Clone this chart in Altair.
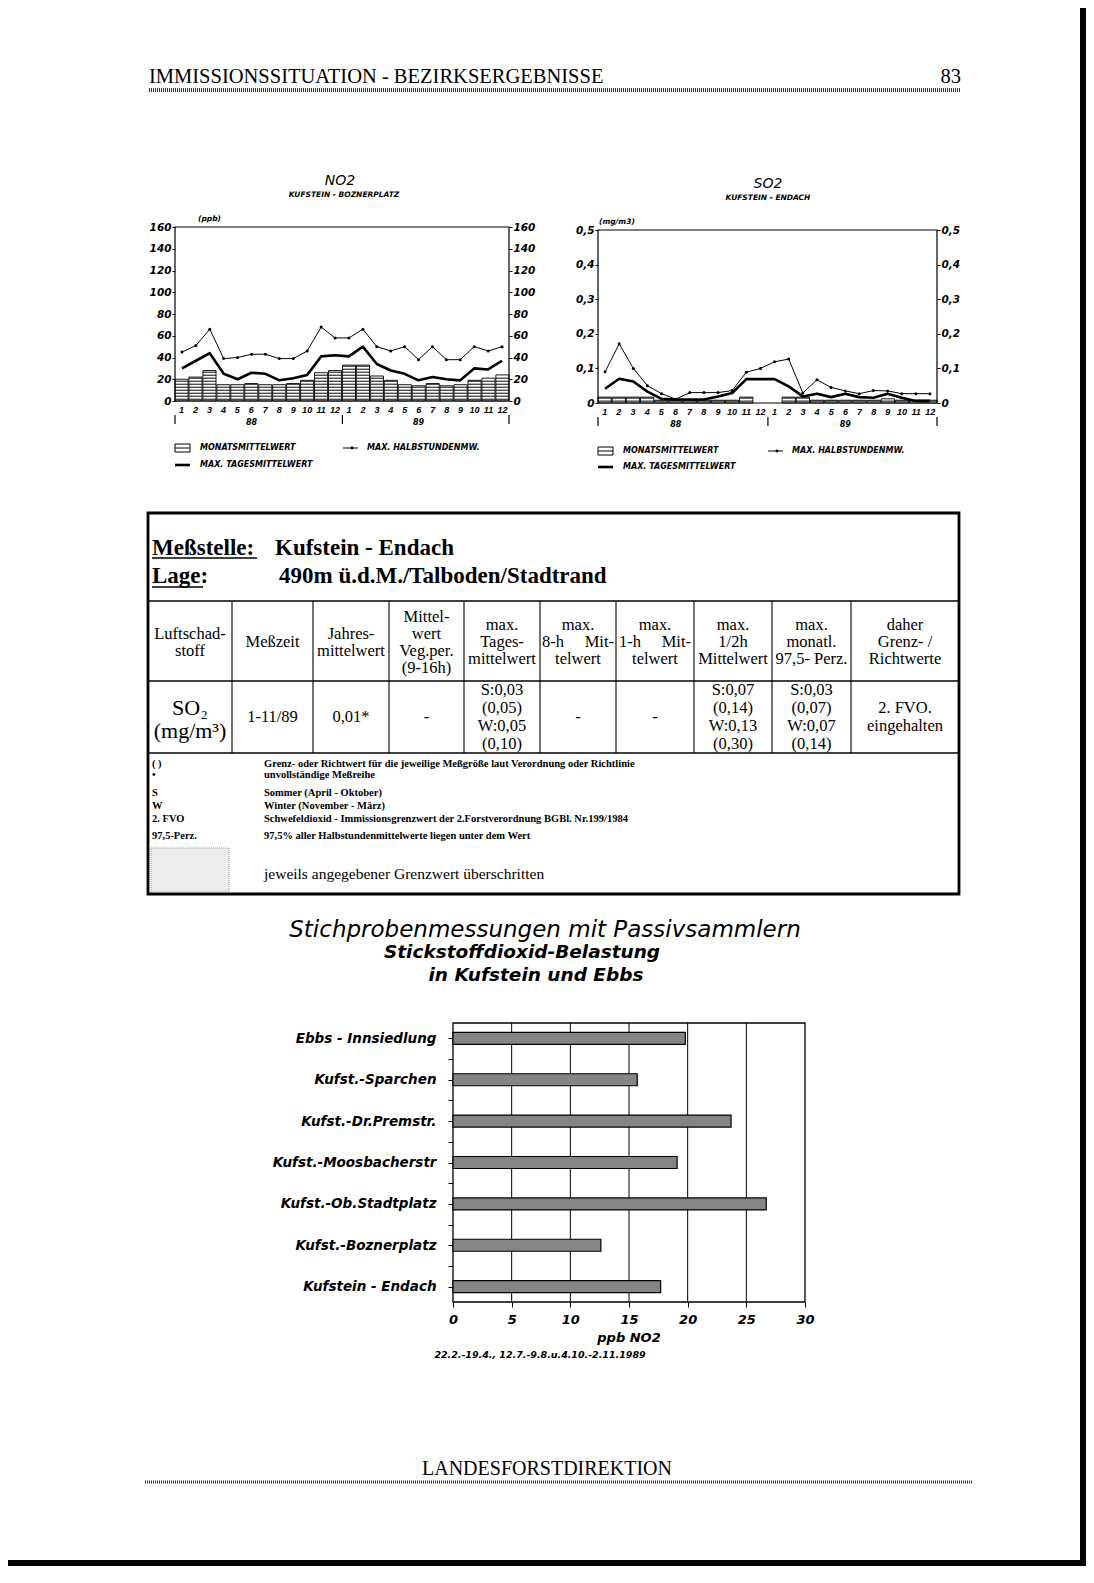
import altair as alt
import pandas as pd

# ------------------------------------------------------------------
# values read from the page
# ------------------------------------------------------------------
MONTH_LABELS = [str(m) for m in range(1, 13)] * 2
YEARS = ["88", "89"]

NO2_MONTHLY_MEAN = [20, 22, 28, 15, 15, 16, 15, 15, 16, 19, 26, 28,
                    33, 33, 23, 19, 15, 14, 16, 14, 15, 19, 21, 24]
NO2_MAX_DAY = [30, 37, 44, 25, 20, 26, 25, 19, 21, 24, 41, 42,
               41, 50, 34, 28, 25, 19, 22, 20, 19, 30, 29, 37]
NO2_MAX_HALFHOUR = [45, 51, 66, 39, 40, 43, 43, 39, 39, 46, 68, 58,
                    58, 66, 50, 46, 50, 38, 50, 38, 38, 50, 46, 50]

SO2_MONTHLY_MEAN = [0.017, 0.017, 0.017, 0.017, 0.008, 0.008, 0.008, 0.008, 0.008, 0.008, 0.017, None,
                    None, 0.017, 0.017, 0.008, 0.008, 0.008, 0.008, 0.008, 0.012, 0.008, 0.008, 0.008]
SO2_MAX_DAY = [0.041, 0.070, 0.062, 0.033, 0.012, 0.010, 0.010, 0.010, 0.019, 0.029, 0.069, 0.069,
               0.069, 0.048, 0.019, 0.027, 0.017, 0.027, 0.017, 0.015, 0.027, 0.015, 0.006, 0.006]
SO2_MAX_HALFHOUR = [0.090, 0.171, 0.100, 0.050, 0.027, 0.011, 0.030, 0.030, 0.030, 0.036, 0.089, 0.100,
                    0.119, 0.127, 0.029, 0.067, 0.045, 0.035, 0.027, 0.036, 0.035, 0.027, 0.027, 0.027]

NO2_TICKS = [0, 20, 40, 60, 80, 100, 120, 140, 160]
SO2_TICKS = [0, 0.1, 0.2, 0.3, 0.4, 0.5]

LEGEND_TEXTS = ["MONATSMITTELWERT", "MAX. HALBSTUNDENMW.", "MAX. TAGESMITTELWERT"]

SITES = ["Ebbs - Innsiedlung", "Kufst.-Sparchen", "Kufst.-Dr.Premstr.", "Kufst.-Moosbacherstr",
         "Kufst.-Ob.Stadtplatz", "Kufst.-Boznerplatz", "Kufstein - Endach"]
SITE_NO2 = [19.8, 15.7, 23.7, 19.1, 26.7, 12.6, 17.7]
BAR_TICKS = [0, 5, 10, 15, 20, 25, 30]

HEADER_CELLS = [
    ["Luftschad-", "stoff"],
    ["Meßzeit"],
    ["Jahres-", "mittelwert"],
    ["Mittel-", "wert", "Veg.per.", "(9-16h)"],
    ["max.", "Tages-", "mittelwert"],
    ["max.", "8-h\u00a0\u00a0\u00a0\u00a0\u00a0Mit-", "telwert"],
    ["max.", "1-h\u00a0\u00a0\u00a0\u00a0\u00a0Mit-", "telwert"],
    ["max.", "1/2h", "Mittelwert"],
    ["max.", "monatl.", "97,5- Perz."],
    ["daher", "Grenz- /", "Richtwerte"],
]
DATA_CELLS = [
    ["SO\u2082", "(mg/m\u00b3)"],
    ["1-11/89"],
    ["0,01*"],
    ["-"],
    ["S:0,03", "(0,05)", "W:0,05", "(0,10)"],
    ["-"],
    ["-"],
    ["S:0,07", "(0,14)", "W:0,13", "(0,30)"],
    ["S:0,03", "(0,07)", "W:0,07", "(0,14)"],
    ["2. FVO.", "eingehalten"],
]
NOTE_KEYS = ["( )", "\u2022", "S", "W", "2. FVO", "97,5-Perz."]
NOTE_TEXTS = [
    "Grenz- oder Richtwert für die jeweilige Meßgröße laut Verordnung oder Richtlinie",
    "unvollständige Meßreihe",
    "Sommer (April - Oktober)",
    "Winter (November - März)",
    "Schwefeldioxid - Immissionsgrenzwert der 2.Forstverordnung BGBl. Nr.199/1984",
    "97,5% aller Halbstundenmittelwerte liegen unter dem Wert",
]

# ------------------------------------------------------------------
# layout (page pixel coordinates)
# ------------------------------------------------------------------
W, H = 1078, 1558
M = 8
SANS = "DejaVu Sans"
NARROW = "Liberation Sans"
SERIF = "Liberation Serif"


def P(v):
    return v - M


def T(rows, size, font=SERIF, weight="normal", style="normal", align="center",
      baseline="middle", color="black"):
    df = pd.DataFrame(rows, columns=["t", "px", "py"])
    df["px"] = df["px"].astype(float) - M
    df["py"] = df["py"].astype(float) - M
    return alt.Chart(df).mark_text(font=font, fontSize=size, fontWeight=weight, fontStyle=style,
                                   align=align, baseline=baseline, color=color).encode(
        x=alt.X("px:Q", scale=None, axis=None),
        y=alt.Y("py:Q", scale=None, axis=None),
        text=alt.Text("t:N"))


def R(rows, width=1.0, color="black", dash=None):
    df = pd.DataFrame(rows, columns=["a", "b", "c", "d"]).astype(float) - M
    kw = dict(strokeWidth=width, color=color)
    if dash:
        kw["strokeDash"] = dash
    return alt.Chart(df).mark_rule(**kw).encode(
        x=alt.X("a:Q", scale=None, axis=None), y=alt.Y("b:Q", scale=None, axis=None),
        x2="c:Q", y2="d:Q")


def B(rows, fill="transparent", stroke="black", width=1.0, dash=None):
    df = pd.DataFrame(rows, columns=["a", "b", "c", "d"]).astype(float) - M
    kw = dict(fill=fill, stroke=stroke, strokeWidth=width)
    if dash:
        kw["strokeDash"] = dash
    return alt.Chart(df).mark_rect(**kw).encode(
        x=alt.X("a:Q", scale=None, axis=None), y=alt.Y("b:Q", scale=None, axis=None),
        x2="c:Q", y2="d:Q")


def DOT(rows, size=12):
    df = pd.DataFrame(rows, columns=["a", "b"]).astype(float) - M
    return alt.Chart(df).mark_circle(color="black", opacity=1, size=size).encode(
        x=alt.X("a:Q", scale=None, axis=None), y=alt.Y("b:Q", scale=None, axis=None))


LAB = dict(labelFont=SANS, labelFontStyle="italic", labelFontWeight="bold", labelColor="black")


def month_panel(mm, tm, hs, box, ymax, ticks, lab_expr, hatch):
    x0, y0, x1, y1 = box
    df = pd.DataFrame({"idx": list(range(24)), "mm": mm, "tm": tm, "hs": hs})
    xs = alt.Scale(domain=list(range(24)), range=[P(x0), P(x1)], paddingInner=0.06, paddingOuter=0)
    ys = alt.Scale(domain=[0, ymax], range=[P(y1), P(y0)], nice=False, zero=True)
    base = alt.Chart(df)
    xax = alt.Axis(orient="bottom", offset=P(y1) - H, labelExpr="(datum.value % 12) + 1",
                   labelAngle=0, labelOverlap=False, ticks=False, domain=False, grid=False,
                   labelFont=NARROW, labelFontStyle="italic", labelFontWeight="bold", labelColor="black",
                   labelFontSize=9, labelPadding=4, title=None)
    bars = base.mark_bar(fill="white", stroke="black", strokeWidth=0.9).encode(
        x=alt.X("idx:O", scale=xs, axis=xax),
        y=alt.Y("mm:Q", scale=ys, axis=None))
    hs0, hstep, hw = hatch
    hatch_l = base.transform_filter("isValid(datum.mm)").transform_calculate(
        s=f"sequence({hs0}, datum.mm - {hw}, {hstep})").transform_flatten(["s"]).transform_calculate(
        s2=f"datum.s + {hw}").mark_bar(color="black").encode(
        x=alt.X("idx:O", scale=xs, axis=None),
        y=alt.Y("s:Q", scale=ys, axis=None), y2="s2:Q")
    left_ax = alt.Axis(orient="left", offset=-P(x0), values=ticks, labelExpr=lab_expr, tickSize=3,
                       tickColor="black", labelPadding=1, domain=False, grid=False, title=None,
                       labelFontSize=10.5, **LAB)
    right_ax = alt.Axis(orient="right", offset=P(x1) - W, values=ticks, labelExpr=lab_expr, tickSize=3,
                        tickColor="black", labelPadding=1, domain=False, grid=False, title=None,
                        labelFontSize=10.5, **LAB)
    tm_line = base.mark_line(color="black", strokeWidth=2.6, strokeJoin="round").encode(
        x=alt.X("idx:O", scale=xs, axis=None),
        y=alt.Y("tm:Q", scale=ys, axis=left_ax), order="idx:Q")
    hs_line = base.mark_line(color="black", strokeWidth=1,
                             point=alt.OverlayMarkDef(filled=True, size=9, color="black")).encode(
        x=alt.X("idx:O", scale=xs, axis=None),
        y=alt.Y("hs:Q", scale=ys, axis=right_ax), order="idx:Q")
    frame = B([(x0, y0, x1, y1)], width=1.2)
    yr_start = alt.Chart(pd.DataFrame({"idx": [0, 12]})).mark_rule(color="black", strokeWidth=1.2).encode(
        x=alt.X("idx:O", scale=xs, axis=None, bandPosition=0),
        y=alt.value(P(y1 + 14)), y2=alt.value(P(y1 + 23)))
    yr_end = alt.Chart(pd.DataFrame({"idx": [23]})).mark_rule(color="black", strokeWidth=1.2).encode(
        x=alt.X("idx:O", scale=xs, axis=None, bandPosition=1),
        y=alt.value(P(y1 + 14)), y2=alt.value(P(y1 + 23)))
    yr_txt = alt.Chart(pd.DataFrame({"idx": [5, 17], "yr": YEARS})).mark_text(
        font=SANS, fontSize=8, fontStyle="italic", fontWeight="bold", baseline="middle").encode(
        x=alt.X("idx:O", scale=xs, axis=None, bandPosition=1),
        y=alt.value(P(y1 + 22)), text="yr:N")
    return [bars, hatch_l, frame, tm_line, hs_line, yr_start, yr_end, yr_txt]


def legend(x0, xc2, ya, yb):
    return [
        B([(x0, ya - 4, x0 + 15, ya + 4)], fill="white", width=1),
        R([(x0, ya, x0 + 15, ya)], width=1),
        T([(LEGEND_TEXTS[0], x0 + 25, ya)], 8, SANS, "bold", "italic", align="left"),
        R([(xc2, ya, xc2 + 15, ya)], width=1),
        DOT([(xc2 + 9, ya)], size=8),
        T([(LEGEND_TEXTS[1], xc2 + 24, ya)], 8, SANS, "bold", "italic", align="left"),
        R([(x0, yb, x0 + 15, yb)], width=2.6),
        T([(LEGEND_TEXTS[2], x0 + 25, yb)], 8, SANS, "bold", "italic", align="left"),
    ]


layers = []

# page header / footer
layers += [
    T([("IMMISSIONSSITUATION - BEZIRKSERGEBNISSE", 149, 83)], 20.5, align="left", baseline="alphabetic"),
    T([("83", 961, 83)], 20.5, align="right", baseline="alphabetic"),
    R([(149, 90, 961, 90)], width=4, color="#333", dash=[1, 1]),
    T([("LANDESFORSTDIREKTION", 547, 1475)], 20, baseline="alphabetic"),
    R([(145, 1482, 972, 1482)], width=3, color="#333", dash=[1, 1]),
    B([(1080, 8, 1086, 1566)], fill="black", stroke="black", width=0),
    B([(8, 1560, 1086, 1566)], fill="black", stroke="black", width=0),
]

# NO2 panel
NO2_BOX = (175, 227, 509, 401)
layers += month_panel(NO2_MONTHLY_MEAN, NO2_MAX_DAY, NO2_MAX_HALFHOUR, NO2_BOX, 160, NO2_TICKS,
                      "datum.value", (1.2, 2.76, 0.9))
layers += [
    T([("NO2", 340, 185)], 14, SANS, style="italic", baseline="alphabetic"),
    T([("KUFSTEIN - BOZNERPLATZ", 344, 195)], 7.5, SANS, "bold", "italic"),
    T([("(ppb)", 198, 219)], 7.5, SANS, "bold", "italic", align="left"),
]
layers += legend(175, 343, 448, 465)

# SO2 panel
SO2_BOX = (598, 230, 937, 403)
layers += month_panel(SO2_MONTHLY_MEAN, SO2_MAX_DAY, SO2_MAX_HALFHOUR, SO2_BOX, 0.5, SO2_TICKS,
                      "datum.value == 0 ? '0' : replace(format(datum.value, '.1f'), '.', ',')",
                      (0.004, 0.0087, 0.0029))
layers += [
    T([("SO2", 768, 188)], 14, SANS, style="italic", baseline="alphabetic"),
    T([("KUFSTEIN - ENDACH", 768, 198)], 7.5, SANS, "bold", "italic"),
    T([("(mg/m3)", 599, 222)], 7.5, SANS, "bold", "italic", align="left"),
]
layers += legend(598, 768, 451, 467)

# ------------------------------------------------------------------
# table
# ------------------------------------------------------------------
COLS = [148, 232, 313, 389, 464, 540, 616, 694, 772, 851, 959]
TB_TOP, TB_HEAD, TB_ROW1, TB_ROW2, TB_BOT = 513, 601, 681, 753, 894
centers = [(a + b) / 2 for a, b in zip(COLS[:-1], COLS[1:])]

layers += [
    B([(COLS[0], TB_TOP, COLS[-1], TB_BOT)], width=2.8),
    R([(COLS[0], y, COLS[-1], y) for y in (TB_HEAD, TB_ROW1, TB_ROW2)], width=1.6),
    R([(x, TB_HEAD, x, TB_ROW2) for x in COLS[1:-1]], width=1.1),
    T([("Meßstelle:", 152, 555), ("Lage:", 152, 583)], 23, weight="bold", align="left", baseline="alphabetic"),
    T([("Kufstein - Endach", 275, 555), ("490m ü.d.M./Talboden/Stadtrand", 279, 583)], 23,
      weight="bold", align="left", baseline="alphabetic"),
    R([(152, 558, 257, 558), (152, 587, 203, 587)], width=1.6),
]
hdr_rows = []
for cx, lines in zip(centers, HEADER_CELLS):
    n = len(lines)
    for i, s in enumerate(lines):
        hdr_rows.append((s, cx, 642 + (i - (n - 1) / 2) * 17))
layers.append(T(hdr_rows, 16.5))

data_rows = []
for cx, lines in zip(centers[1:], DATA_CELLS[1:]):
    n = len(lines)
    for i, s in enumerate(lines):
        data_rows.append((s, cx, 717 + (i - (n - 1) / 2) * 18))
layers.append(T(data_rows, 16.5))
layers.append(T([(DATA_CELLS[0][0], centers[0], 708), (DATA_CELLS[0][1], centers[0], 731)], 22))

NOTE_Y = [764, 775, 793, 806, 819, 836]
layers += [
    T([(k, 152, y) for k, y in zip(NOTE_KEYS, NOTE_Y)], 10.5, weight="bold", align="left"),
    T([(t, 264, y) for t, y in zip(NOTE_TEXTS, NOTE_Y)], 10.5, weight="bold", align="left"),
    B([(151, 848, 229, 892)], fill="#ececec", stroke="#999", width=1, dash=[1, 1]),
    T([("jeweils angegebener Grenzwert überschritten", 264, 874)], 15.5, align="left"),
]

# ------------------------------------------------------------------
# horizontal bar chart
# ------------------------------------------------------------------
BX0, BY0, BX1, BY1 = 453, 1023, 805, 1302
xsb = alt.Scale(domain=[0, 30], range=[P(BX0), P(BX1)], nice=False, zero=False)
ysb = alt.Scale(domain=[-0.25, 6.25], range=[P(BY0), P(BY1)], nice=False, zero=False)
site_df = pd.DataFrame({"idx": list(range(len(SITES))), "site": SITES, "v": SITE_NO2})
names = ",".join("'" + s + "'" for s in SITES)
yax = alt.Axis(orient="left", offset=-P(BX0), values=[i / 2 for i in range(13)],
               labelExpr=f"datum.value % 1 == 0 ? [{names}][datum.value] : ''",
               tickSize=5, tickColor="black", labelPadding=12, labelOverlap=False, domain=False,
               grid=False, title=None, labelFontSize=13.5, **LAB)
xax = alt.Axis(orient="bottom", offset=P(BY1) - H, values=BAR_TICKS, tickSize=5, tickColor="black",
               labelPadding=6, labelFlush=False, labelOverlap=False, domain=False, grid=False,
               title=None, labelFontSize=13, **LAB)
grid = alt.Chart(pd.DataFrame({"g": BAR_TICKS[1:-1]})).mark_rule(color="black", strokeWidth=1).encode(
    x=alt.X("g:Q", scale=xsb, axis=None), y=alt.value(P(BY0)), y2=alt.value(P(BY1)))
hbars = alt.Chart(site_df).mark_bar(orient="horizontal", size=12, fill="#858585", stroke="black",
                                    strokeWidth=1.2).encode(
    x=alt.X("v:Q", scale=xsb, axis=xax), x2=alt.datum(0),
    y=alt.Y("idx:Q", scale=ysb, axis=yax))
layers += [
    grid,
    B([(BX0, BY0, BX1, BY1)], width=1.3),
    hbars,
    T([("Stichprobenmessungen mit Passivsammlern", 545, 930)], 23, SANS, style="italic"),
    T([("Stickstoffdioxid-Belastung", 522, 952)], 18.5, SANS, "bold", "italic"),
    T([("in Kufstein und Ebbs", 536, 975)], 18.5, SANS, "bold", "italic"),
    T([("ppb NO2", 629, 1338)], 13, SANS, "bold", "italic"),
    T([("22.2.-19.4., 12.7.-9.8.u.4.10.-2.11.1989", 540, 1355)], 9.5, SANS, "bold", "italic"),
]

chart = alt.layer(*layers).properties(
    width=W, height=H, autosize=alt.AutoSizeParams(type="none"), padding=0
).resolve_scale(x="independent", y="independent").configure_view(stroke=None).configure_axis(grid=False)

chart.save("out.html", embed_options={"renderer": "svg", "actions": False})
